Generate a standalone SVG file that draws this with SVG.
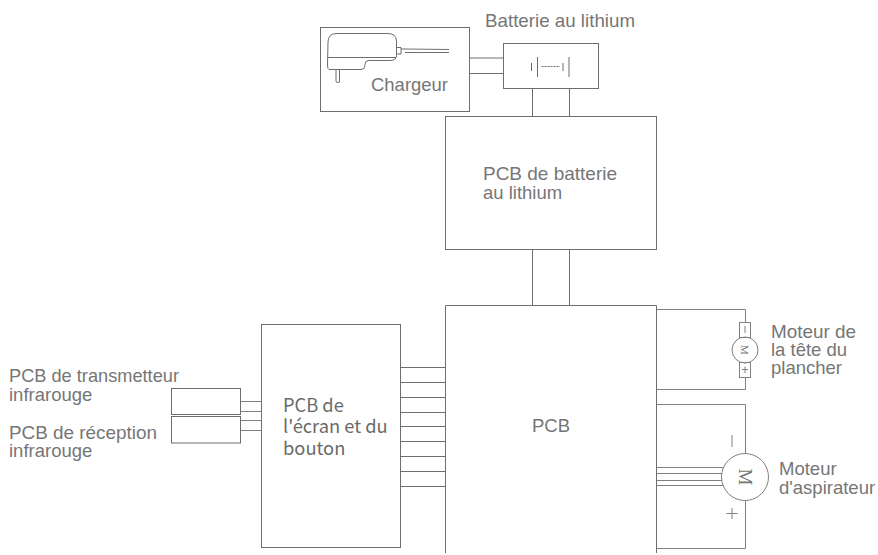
<svg xmlns="http://www.w3.org/2000/svg" width="878" height="555" viewBox="0 0 878 555">
<style>
.b{fill:#fff;stroke:#6e6e6e;stroke-width:1}
.l{fill:none;stroke:#6e6e6e;stroke-width:1}
.g{fill:none;stroke:#808080;stroke-width:1}
text{font-family:"Liberation Sans",Arial,sans-serif;font-size:18.500px;fill:#767676}
.n{font-family:"Noto Sans CJK SC","Noto Sans",sans-serif;font-size:18.300px;fill:#6a6a6a}
</style>
<rect width="878" height="555" fill="#fff"/>
<g id="connectors">
<path class="l" d="M469 58H503M469 73.500H503M532.500 88V116M569.500 88V116M532.500 249V305M569.500 249V305"/>
<path class="l" d="M400 367.500H445M400 382.500H445M400 397.500H445M400 412.500H445M400 426.500H445M400 441.500H445M400 456.500H445M400 471.500H445M400 486.500H445"/>
<path class="g" d="M240 401.500H261M240 411.500H261M240 420.500H261M240 430.500H261"/>
<path class="g" d="M656 309.500H745.500V322M745.500 377V389.500H656M656 404.500H745.500V453M745.500 500V548.500H656"/>
<path class="g" d="M656 467.500H723M656 473.500H722M656 480.500H722M656 485.500H723"/>
</g>
<g id="chargeur">
<rect class="b" x="320.500" y="27.500" width="149" height="84"/>
<path class="l" d="M328 42Q328 33.500 337 33.500H388Q396 33.500 396.500 41V55.500Q396.500 60.500 390 60.500H369Q365 60.500 365 64V65.500Q365 69.500 361 69.500H329Q327.500 69.500 327.500 65ZM328 57.500H396M396.500 47.500H401V54H396.500M401 49H405L449 49.500M405 52.500H449M336 70V81Q336 82.500 338 82.500Q340 82.500 339.500 81V70"/>
<text x="371" y="90.500" textLength="77" lengthAdjust="spacingAndGlyphs">Chargeur</text>
</g>
<g id="batterie">
<rect class="b" x="503.500" y="43.500" width="95" height="45"/>
<path class="l" d="M531.500 63V71M537.500 57V77M563 63V71M569 57V77"/>
<path class="l" stroke-dasharray="2 1" d="M541.500 66.500H560"/>
<text x="485" y="26.500" textLength="150" lengthAdjust="spacingAndGlyphs">Batterie au lithium</text>
</g>
<g id="pcb-batterie">
<rect class="b" x="445.500" y="116.500" width="211" height="133"/>
<text x="483" y="180" textLength="134" lengthAdjust="spacingAndGlyphs">PCB de batterie</text>
<text x="483" y="199">au lithium</text>
</g>
<g id="pcb">
<path class="b" d="M445.500 553V305.500H656.500V553"/>
<text x="532" y="432">PCB</text>
</g>
<g id="pcb-ecran">
<rect class="b" x="261.500" y="324.500" width="139" height="223"/>
<text class="n" x="283" y="412">PCB de</text>
<text class="n" x="283" y="433">l'écran et du</text>
<text class="n" x="283" y="455">bouton</text>
</g>
<g id="ir-tx">
<rect class="b" x="171.500" y="388.500" width="69" height="26"/>
<text x="9" y="381.500" textLength="170" lengthAdjust="spacingAndGlyphs">PCB de transmetteur</text>
<text x="9" y="401">infrarouge</text>
</g>
<g id="ir-rx">
<rect class="b" x="171.500" y="416.500" width="69" height="26.500"/>
<text x="9" y="439" textLength="148" lengthAdjust="spacingAndGlyphs">PCB de réception</text>
<text x="9" y="456.500">infrarouge</text>
</g>
<g id="moteur-tete">
<rect class="g" x="739.500" y="322.500" width="11" height="15"/>
<rect class="g" x="739.500" y="362.500" width="11" height="15"/>
<circle class="g" cx="745" cy="350" r="13" fill="#fff"/>
<path class="g" d="M745 326V333M742 369.500H748M745 366.500V373"/>
<text x="745" y="350" transform="rotate(90 745 350)" text-anchor="middle" dominant-baseline="central" style="font-family:'Liberation Serif',serif;font-size:11px">M</text>
<text x="771" y="337.500" textLength="85" lengthAdjust="spacingAndGlyphs">Moteur de</text>
<text x="771" y="356">la tête du</text>
<text x="771" y="374">plancher</text>
</g>
<g id="moteur-aspirateur">
<circle class="g" cx="745" cy="477" r="23.500"/>
<path class="g" d="M732 435V447M726.500 513.500H737.500M732 508V519"/>
<text x="745" y="477" transform="rotate(90 745 477)" text-anchor="middle" dominant-baseline="central" style="font-family:'Liberation Serif',serif;font-size:19px">M</text>
<text x="779" y="475">Moteur</text>
<text x="779" y="493.500">d'aspirateur</text>
</g>
</svg>
